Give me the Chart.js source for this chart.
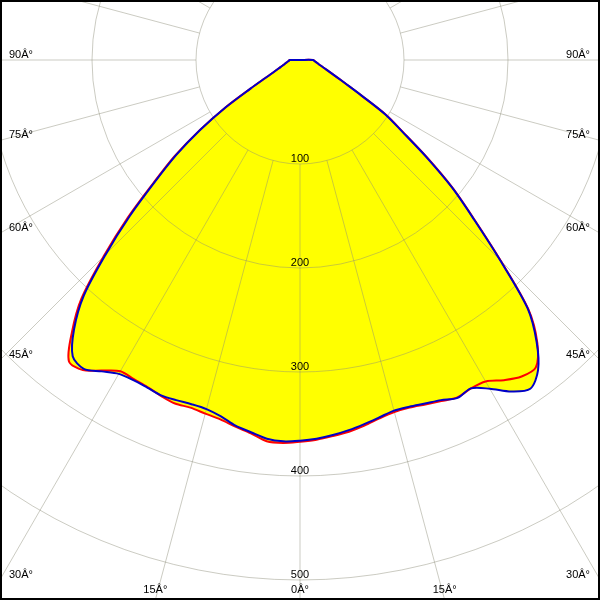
<!DOCTYPE html>
<html>
<head>
<meta charset="utf-8">
<script src="https://cdn.jsdelivr.net/npm/chart.js@4"></script>
<style>
  html, body { margin: 0; padding: 0; background: #fff; }
  canvas { display: block; }
</style>
</head>
<body>
<canvas id="chart" width="600" height="600"></canvas>
<script>
// gamma angles in degrees, negative = left half, 0 = straight down
const angles = [-90, -85, -80, -75, -70, -65, -62.5, -60, -57.5, -55, -52.5, -50, -47.5, -45, -42.5, -40,
  -37.5, -35, -32.5, -30, -27.5, -25, -22.5, -20, -17.5, -15, -12.5, -10, -7.5, -5, -2.5, 0,
  2.5, 5, 7.5, 10, 12.5, 15, 17.5, 20, 22.5, 25, 27.5, 30, 32.5, 35, 37.5, 40,
  42.5, 45, 47.5, 50, 52.5, 55, 57.5, 60, 62.5, 65, 70, 75, 80, 85, 90];

// luminous intensity (cd/klm)
const redValues = [10, 11, 13, 15.5, 20, 28.5, 38, 55, 85, 118, 152, 184, 225, 267, 311, 341,
  365, 364, 354, 345.5, 346, 347, 349.5, 351.5, 350.5, 352, 354, 358, 362, 368, 368.5, 367,
  365.5, 363, 360.5, 357, 353, 350.5, 350.5, 352.5, 355, 358, 356, 357, 365, 371.5, 372.5, 355,
  325, 273, 228, 192, 154, 121, 98, 68, 50, 39, 27, 20.5, 16.8, 14.3, 12.5];

const blueValues = [10, 11, 13, 15.5, 20, 28.5, 38, 55, 85, 117, 150, 182, 222, 264, 308, 338,
  359, 362.5, 355, 348.5, 347, 347.5, 349, 348, 347, 347.5, 351, 357, 361, 365.5, 367, 366,
  364.5, 362, 359, 355.5, 352, 349, 349.5, 351.5, 354, 358.5, 356, 365, 378, 386, 376, 354,
  324, 272, 227, 191, 153, 120, 97, 68, 50, 39, 27, 20.5, 16.8, 14.3, 12.5];

const ringValues = [100, 200, 300, 400, 500, 600];
const ringLabels = ['100', '200', '300', '400', '500'];
const spokeAngles = [0, 15, 30, 45, 60, 75, 90, 105, 120, 135, 150, 165, 180,
  -165, -150, -135, -120, -105, -90, -75, -60, -45, -30, -15];
const edgeAngles = [-90, -75, -60, -45, -30, -15, 0, 15, 30, 45, 60, 75, 90];
const edgeLabels = ['90Â°', '75Â°', '60Â°', '45Â°', '30Â°', '15Â°', '0Â°', '15Â°', '30Â°', '45Â°', '60Â°', '75Â°', '90Â°'];

function toPoints(vals){
  const pts = [{x: 0, y: 0}];
  angles.forEach((a, i) => {
    const t = a * Math.PI / 180;
    pts.push({x: vals[i] * Math.sin(t), y: -vals[i] * Math.cos(t)});
  });
  pts.push({x: 0, y: 0});
  return pts;
}

const PX = 1.04; // pixels per cd/klm
const labelFont = "11px 'Liberation Sans', Arial, sans-serif";

const polarGrid = {
  id: 'polarGrid',
  beforeDatasetsDraw(chart){
    const {ctx, scales: {x, y}} = chart;
    const cx = x.getPixelForValue(0), cy = y.getPixelForValue(0);
    const rad = v => x.getPixelForValue(v) - cx;
    ctx.save();
    ctx.strokeStyle = 'rgba(140,140,120,0.45)';
    ctx.lineWidth = 1;
    for (const v of ringValues){
      ctx.beginPath();
      ctx.arc(cx, cy, rad(v), 0, Math.PI * 2);
      ctx.stroke();
    }
    const r0 = rad(ringValues[0]);
    for (const a of spokeAngles){
      const t = a * Math.PI / 180;
      ctx.beginPath();
      ctx.moveTo(cx + r0 * Math.sin(t), cy + r0 * Math.cos(t));
      ctx.lineTo(cx + 1200 * Math.sin(t), cy + 1200 * Math.cos(t));
      ctx.stroke();
    }
    ctx.restore();
  },
  afterDatasetsDraw(chart){
    const {ctx, chartArea: area, scales: {x, y}} = chart;
    const cx = x.getPixelForValue(0), cy = y.getPixelForValue(0);
    ctx.save();
    ctx.font = labelFont;
    ctx.fillStyle = '#000';
    ctx.textBaseline = 'alphabetic';
    // ring values along the 0° spoke
    ctx.textAlign = 'center';
    ringLabels.forEach(lbl => {
      const py = y.getPixelForValue(-Number(lbl));
      ctx.fillText(lbl, cx, py - 2);
    });
    // angle labels where the spokes meet the frame
    edgeAngles.forEach((a, i) => {
      const t = a * Math.PI / 180;
      const s = Math.sin(t), c = Math.cos(t);
      if (Math.abs(a) >= 30){
        const hx = a < 0 ? area.left : area.right;
        const hy = cy + (Math.abs(hx - cx) / Math.abs(s)) * c;
        ctx.textAlign = a < 0 ? 'left' : 'right';
        ctx.fillText(edgeLabels[i], a < 0 ? hx + 9 : hx - 10, hy - 2);
      } else {
        const hx = cx + (area.bottom - cy) * s / c;
        ctx.textAlign = 'center';
        ctx.fillText(edgeLabels[i], hx, area.bottom - 7);
      }
    });
    ctx.restore();
  },
  afterDraw(chart){
    const {ctx, chartArea: area} = chart;
    ctx.save();
    ctx.strokeStyle = '#000';
    ctx.lineWidth = 2;
    ctx.strokeRect(area.left + 1, area.top + 1, area.right - area.left - 2, area.bottom - area.top - 2);
    ctx.restore();
  }
};

new Chart(document.getElementById('chart'), {
  type: 'scatter',
  data: {
    datasets: [
      {
        label: 'C90-C270',
        data: toPoints(blueValues),
        showLine: true,
        borderColor: '#0000c8',
        borderWidth: 2,
        backgroundColor: '#ffff00',
        fill: 'shape',
        pointRadius: 0,
        tension: 0.3
      },
      {
        label: 'C0-C180',
        data: toPoints(redValues),
        showLine: true,
        borderColor: '#ff0000',
        borderWidth: 2,
        backgroundColor: '#ffff00',
        fill: 'shape',
        pointRadius: 0,
        tension: 0.3
      }
    ]
  },
  options: {
    responsive: false,
    animation: false,
    layout: { padding: 0 },
    scales: {
      x: { type: 'linear', display: false, min: -300 / PX, max: 300 / PX },
      y: { type: 'linear', display: false, min: -540 / PX, max: 60 / PX }
    },
    plugins: {
      legend: { display: false },
      tooltip: { enabled: false },
      filler: { drawTime: 'beforeDatasetsDraw' }
    }
  },
  plugins: [polarGrid]
});
</script>
</body>
</html>
